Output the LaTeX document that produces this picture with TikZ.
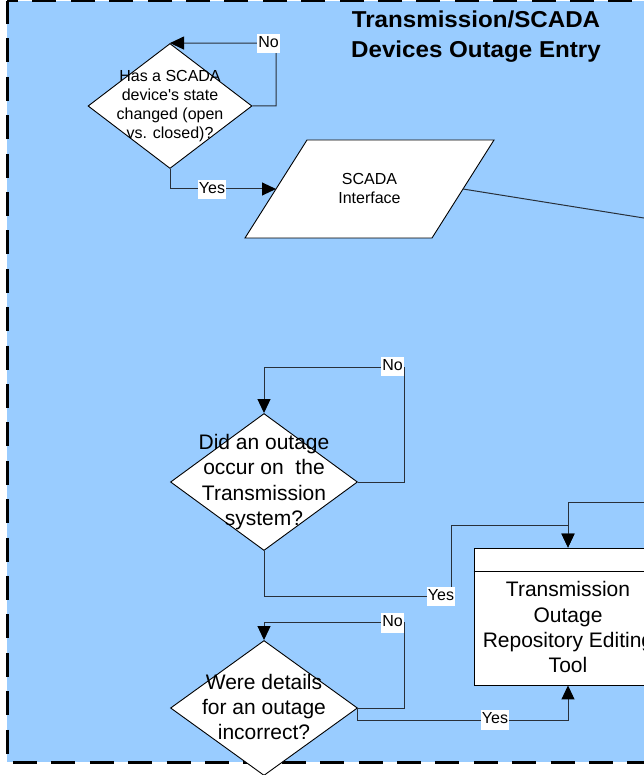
\documentclass[tikz,border=0pt]{standalone}
\usepackage{fontspec}
\setmainfont{Liberation Sans}[Ligatures=TeXOff]
\newfontfamily\titlefamily[FakeStretch=1.05]{Liberation Sans}
\usetikzlibrary{shapes.geometric,arrows.meta,calc}
\definecolor{lanefill}{RGB}{153,204,255}
\definecolor{wire}{RGB}{40,48,58}
\newcommand\smallfs{\fontsize{16}{19}\selectfont}
\newcommand\bigfs{\fontsize{21}{25.3}\selectfont}
\newcommand\tagfs{\fontsize{16}{17}\selectfont}
\newcommand\titlefs{\titlefamily\fontsize{23}{30}\selectfont\bfseries}
\begin{document}
\begin{tikzpicture}[x=1pt,y=-1pt,
  flow/.style={draw=wire, line width=1pt},
  arrowflow/.style={flow, -{Triangle[length=14pt,width=13pt,color=black,fill=black]}},
  decision/.style={diamond, draw=black, fill=white, line width=0.9pt, inner sep=0pt},
  procbox/.style={rectangle, draw=black, fill=white, line width=0.9pt, inner sep=0pt},
  shapetext/.style={align=center, inner sep=0pt},
  tag/.style={fill=white, inner xsep=1pt, inner ysep=2pt, text height=11.5pt, text depth=4pt, font=\tagfs},
  lanedash/.style={line width=3pt}
]
\useasboundingbox (0,0) rectangle (644,775);
\clip (0,0) rectangle (644,775);
\fill[white] (0,0) rectangle (644,775);

% swimlane background and its dashed border
\fill[lanefill] (7,1) rectangle (700,762);
\draw[lanedash, dash pattern=on 24pt off 14.4pt, dash phase=13pt] (7,1) -- (700,1);
\draw[lanedash, dash pattern=on 24pt off 14.4pt, dash phase=1pt] (7,1) -- (7,762);
\draw[lanedash, dash pattern=on 24pt off 14.4pt, dash phase=32.4pt] (7,762) -- (700,762);

% lane title
\node[shapetext, font=\titlefs] (title) at (476,36.5) {Transmission/SCADA\\Devices Outage Entry};

% shapes
\node[decision, minimum width=164pt, minimum height=125pt] (d1) at (170,106) {};
\node[decision, minimum width=187pt, minimum height=137pt] (d2) at (264,482) {};
\node[decision, minimum width=187pt, minimum height=135pt] (d3) at (264,708) {};
\node[procbox, minimum width=188pt, minimum height=137pt] (tool) at (568,616.5) {};
\draw[black, line width=0.9pt] (tool.north west) ++(0,24) -- ++(188,0);

% SCADA interface (parallelogram)
\coordinate (ptl) at (307,140);
\coordinate (ptr) at (494,140);
\coordinate (pbr) at (432,238);
\coordinate (pbl) at (245,238);
\filldraw[fill=white, draw=black, line width=0.9pt] (pbl) -- (ptl) -- (ptr) -- (pbr) -- cycle;
\coordinate (scadain) at ($(pbl)!0.5!(ptl)$);
\coordinate (scadaout) at ($(pbr)!0.5!(ptr)$);
\coordinate (offright) at (700,227);
\coordinate (feedin) at (700,502);

% connectors
\draw[arrowflow] (d1.east) -| (276,43) -- (d1.north);
\draw[arrowflow] (d1.south) |- (scadain);
\draw[flow] (scadaout) -- (offright);
\draw[arrowflow] (d2.east) -| (404,367) -| (d2.north);
\draw[arrowflow] (d2.south) |- (451,596) |- (568,525) -- (tool.north);
\draw[arrowflow] (feedin) -| (tool.north);
\draw[arrowflow] (d3.east) -| (404,622) -| (d3.north);
\draw[arrowflow] (d3.east) -- ++(0,12) -| (tool.south);

% texts
\node[shapetext, font=\smallfs] (d1t) at (170,106.3) {Has a SCADA\\device's state\\changed (open\\vs. closed)?};
\node[shapetext, font=\smallfs] (scadat) at (369.5,188.8) {SCADA\\Interface};
\node[shapetext, font=\bigfs] (d2t) at (264,482) {Did an outage\\occur on\ \ the\\Transmission\\system?};
\node[shapetext, font=\bigfs] (d3t) at (264,707) {Were details\\for an outage\\incorrect?};
\node[shapetext, font=\bigfs] (toolt) at (568,627.3) {Transmission\\Outage\\Repository Editing\\Tool};

% branch labels
\node[tag] (no1) at (268.5,43.5) {No};
\node[tag] (yes1) at (212,189.5) {Yes};
\node[tag] (no2) at (392.5,366.5) {No};
\node[tag] (yes2) at (441,596.5) {Yes};
\node[tag] (no3) at (392.5,623) {No};
\node[tag] (yes3) at (495,720) {Yes};
\end{tikzpicture}
\end{document}
